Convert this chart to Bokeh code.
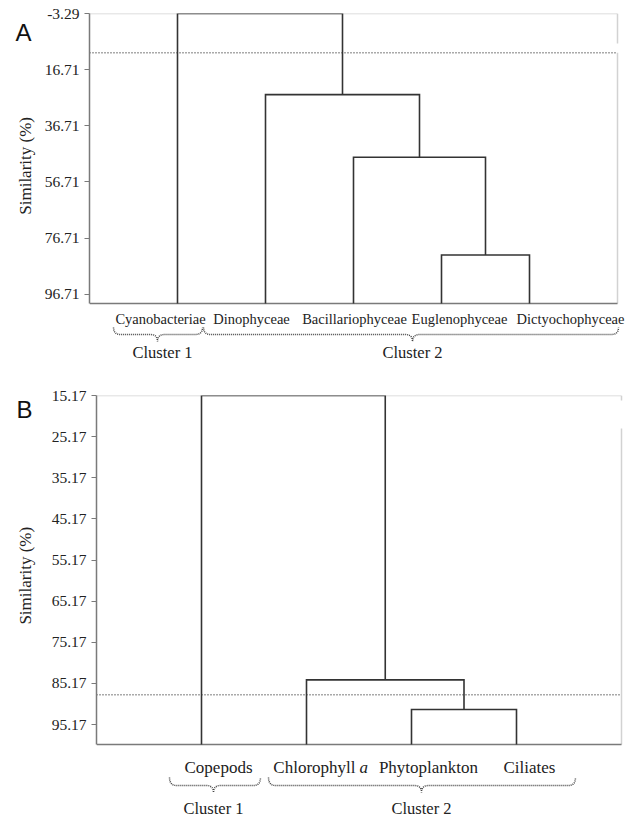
import numpy as np
from bokeh.plotting import figure
from bokeh.models import Range1d, FixedTicker, NumeralTickFormatter
from bokeh.layouts import column, row
from bokeh.embed import file_html
from bokeh.resources import INLINE
from bokeh.core.properties import value

# ---------------- data ----------------
# Panel A: phytoplankton classes
a_leaves = ["Cyanobacteriae", "Dinophyceae", "Bacillariophyceae", "Euglenophyceae", "Dictyochophyceae"]
a_merge_a = [3, 2, 1, 0]          # linkage: node indices joined at each step
a_merge_b = [4, 5, 6, 7]
a_merge_sim = [82.7, 47.9, 25.6, -3.29]
a_cutoff = 10.7
a_ticks = [-3.29, 16.71, 36.71, 56.71, 76.71, 96.71]
a_base = 100.0
a_clusters = ["Cluster 1", "Cluster 2"]

# Panel B: plankton components
b_leaves = ["Copepods", "Chlorophyll a", "Phytoplankton", "Ciliates"]
b_merge_a = [2, 1, 0]
b_merge_b = [3, 4, 5]
b_merge_sim = [91.5, 84.3, 15.17]
b_cutoff = 87.9
b_ticks = [15.17, 25.17, 35.17, 45.17, 55.17, 65.17, 75.17, 85.17, 95.17]
b_base = 100.0
b_clusters = ["Cluster 1", "Cluster 2"]

W = 629
SERIF = "Liberation Serif"
TXT = "#222222"


def brace_path(x0, x1, xt, y_end, y_flat, y_tip, r=7, n=8):
    """dotted curly brace, pixel coordinates"""
    def q(p0, p1, p2):
        t = np.linspace(0, 1, n)
        return [((1-s)**2*p0[0] + 2*(1-s)*s*p1[0] + s**2*p2[0],
                 (1-s)**2*p0[1] + 2*(1-s)*s*p1[1] + s**2*p2[1]) for s in t]
    pts = []
    pts += q((x0, y_end), (x0, y_flat), (x0 + r, y_flat))
    pts += [(xt - r, y_flat)]
    pts += q((xt - r, y_flat), (xt, y_flat), (xt, y_tip))
    pts += q((xt, y_tip), (xt, y_flat), (xt + r, y_flat))
    pts += [(x1 - r, y_flat)]
    pts += q((x1 - r, y_flat), (x1, y_flat), (x1, y_end))
    return [p[0] for p in pts], [p[1] for p in pts]


def make_strip(cfg):
    sw, H = cfg["strip"], cfg["height"]
    s = figure(width=sw, height=H, output_backend="svg", toolbar_location=None,
               x_range=Range1d(0, sw), y_range=Range1d(0, H),
               x_axis_type=None, y_axis_type=None,
               min_border_left=0, min_border_right=0, min_border_top=0, min_border_bottom=0)
    s.outline_line_color = None
    s.grid.grid_line_color = None
    lx, ly = cfg["letter_pos"]
    s.text([lx], [H - ly], text=[cfg["letter"]], text_font=value("Liberation Sans"),
           text_font_size="24px", text_color="#111111", text_align="center", text_baseline="middle")
    tx, ty = cfg["title_pos"]
    s.text([tx], [H - ty], text=["Similarity (%)"], text_font=value(SERIF),
           text_font_size="17px", text_color=TXT, angle=np.pi / 2,
           text_align="center", text_baseline="middle")
    return s


def make_panel(leaves, m_a, m_b, m_sim, cutoff, ticks, base, clusters, cfg):
    n = len(leaves)
    top_val = ticks[0]
    left, top_px, base_px, unit, H = cfg["left"], cfg["top"], cfg["base_px"], cfg["unit"], cfg["height"]
    scale = (base_px - top_px) / (base - top_val)
    sw = cfg["strip"]

    def X(px):
        return (px - left) / unit

    def Y(py):
        return top_val + (py - top_px) / scale

    p = figure(width=W - sw, height=H, output_backend="svg", toolbar_location=None,
               x_range=Range1d(0, X(W)), y_range=Range1d(Y(H), top_val),
               x_axis_type=None, y_axis_location="left",
               min_border_left=left - sw, min_border_right=0,
               min_border_top=top_px, min_border_bottom=0)
    p.outline_line_color = None
    p.grid.grid_line_color = None

    ax = p.yaxis[0]
    ax.ticker = FixedTicker(ticks=ticks)
    ax.formatter = NumeralTickFormatter(format="0.00")
    ax.bounds = (top_val, base)
    ax.axis_line_color = "#7a7a7a"
    ax.axis_line_width = 1.5
    ax.major_tick_line_color = "#7a7a7a"
    ax.major_tick_line_width = 1.2
    ax.major_tick_out = 5
    ax.major_tick_in = 0
    ax.minor_tick_line_color = None
    ax.major_label_standoff = 5
    ax.major_label_text_font = SERIF
    ax.major_label_text_font_size = cfg["tick_size"]
    ax.major_label_text_color = TXT

    xr = n + 1
    # frame borders
    p.line([0, xr], [top_val, top_val], line_color="#d2d2d2", line_width=1.5)
    for (y0, y1) in cfg["right_border"]:
        p.line([xr, xr], [y0, y1], line_color="#d2d2d2", line_width=1.5)
    p.line([0, xr], [base, base], line_color="#7a7a7a", line_width=1.5)
    # cutoff
    p.line([0, xr], [cutoff, cutoff], line_color="#555555", line_width=1.5, line_dash="1 2")

    # dendrogram
    node_x = [i + 1 for i in range(n)]
    node_y = [base] * n
    xs, ys = [], []
    for a, b, h in zip(m_a, m_b, m_sim):
        xs.append([node_x[a], node_x[a], node_x[b], node_x[b]])
        ys.append([node_y[a], h, h, node_y[b]])
        node_x.append((node_x[a] + node_x[b]) / 2)
        node_y.append(h)
    p.multi_line(xs, ys, line_color="#333333", line_width=1.6, line_join="miter")

    # leaf labels
    for lab, cx in zip(leaves, cfg["label_px"]):
        if lab.endswith(" a"):
            main = lab[:-2]
            p.text([X(cx + cfg["split"][0])], [Y(cfg["label_py"])], text=[main],
                   text_font=value(SERIF), text_font_size=cfg["leaf_size"], text_color=TXT,
                   text_align="right", text_baseline="middle")
            p.text([X(cx + cfg["split"][1])], [Y(cfg["label_py"])], text=["a"],
                   text_font=value(SERIF), text_font_size=cfg["leaf_size"], text_color=TXT,
                   text_font_style="italic", text_align="left", text_baseline="middle")
        else:
            p.text([X(cx)], [Y(cfg["label_py"])], text=[lab],
                   text_font=value(SERIF), text_font_size=cfg["leaf_size"], text_color=TXT,
                   text_align="center", text_baseline="middle")

    # braces and cluster names
    ye, yf, yt = cfg["brace_y"]
    for (x0, x1, xt) in cfg["braces"]:
        bx, by = brace_path(x0, x1, xt, ye, yf, yt)
        p.line([X(v) for v in bx], [Y(v) for v in by], line_color="#444444",
               line_width=1.5, line_dash="1 1")
    p.text([X(c) for c in cfg["cluster_px"]], [Y(cfg["cluster_py"])] * len(clusters), text=clusters,
           text_font=value(SERIF), text_font_size=cfg["cluster_size"], text_color=TXT,
           text_align="center", text_baseline="middle")
    return p


cfg_a = dict(letter="A", left=89, strip=40, top=13, base_px=303, unit=88, height=365,
             tick_size="15.5px", leaf_size="14.5px", cluster_size="16.5px",
             label_px=[160, 251, 354, 459, 570], label_py=318, split=(0, 0),
             braces=[(113, 202, 157), (203, 618, 412)], brace_y=(327, 334, 341),
             cluster_px=[162, 412], cluster_py=352,
             letter_pos=(23, 20), title_pos=(25, 158),
             right_border=[(-3.29, 7.4), (10.7, 100.0)])

cfg_b = dict(letter="B", left=96, strip=42, top=30, base_px=379, unit=105, height=453,
             tick_size="15.5px", leaf_size="17px", cluster_size="16.5px",
             label_px=[218, 320, 428, 529], label_py=402, split=(35, 39),
             braces=[(169, 260, 213), (268, 575, 421)], brace_y=(412, 420, 427),
             cluster_px=[213, 421], cluster_py=443,
             letter_pos=(24, 15), title_pos=(25, 193),
             right_border=[(15.17, 16.4), (23.2, 100.0)])

pa = make_panel(a_leaves, a_merge_a, a_merge_b, a_merge_sim, a_cutoff, a_ticks, a_base, a_clusters, cfg_a)
pb = make_panel(b_leaves, b_merge_a, b_merge_b, b_merge_sim, b_cutoff, b_ticks, b_base, b_clusters, cfg_b)
sa = make_strip(cfg_a)
sb = make_strip(cfg_b)

layout = column(row(sa, pa, spacing=0), row(sb, pb, spacing=0), spacing=0)
open("out.html", "w").write(file_html(layout, INLINE))
